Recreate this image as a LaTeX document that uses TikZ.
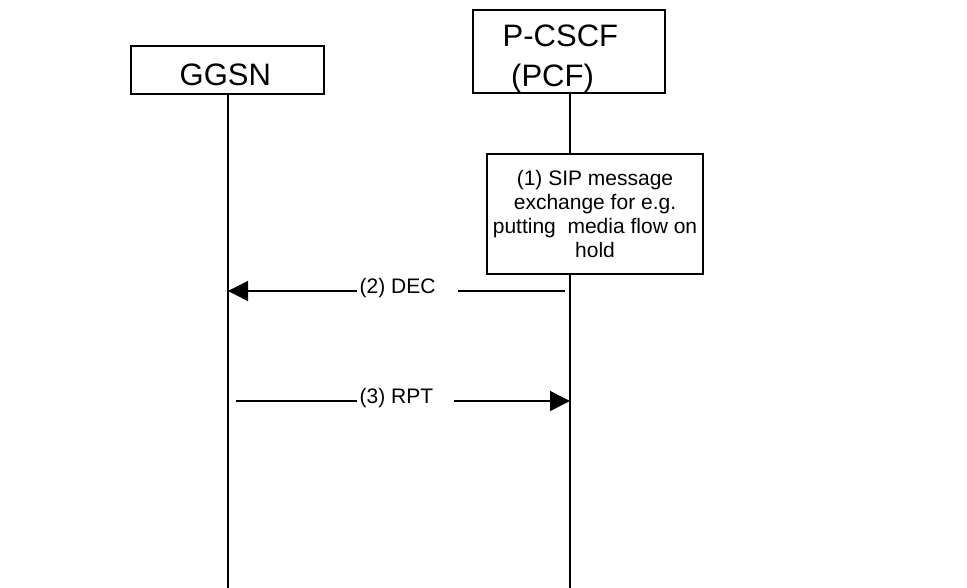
\documentclass[tikz,border=0pt]{standalone}
\usepackage{fontspec}
\setmainfont{Liberation Sans}
\usetikzlibrary{arrows.meta}
\begin{document}
\begin{tikzpicture}[x=1pt,y=-1pt,
  entity/.style={draw, line width=1.8pt, inner sep=0pt},
  bigtext/.style={inner sep=0pt, anchor=base west, font=\fontsize{31}{40}\selectfont},
  smalltext/.style={inner sep=0pt, anchor=base west, font=\fontsize{21}{23.7}\selectfont},
  lifeline/.style={line width=1.4pt},
  msg/.style={line width=1.5pt},
  tip/.style={-{Triangle[length=20pt,width=20pt]}}
]
\useasboundingbox (0,0) rectangle (967,588);

% entity boxes
\node[entity, minimum width=193pt, minimum height=48pt] (ggsn) at (227.5,70) {};
\node[bigtext] (ggsnlbl) at (179.5,86) {GGSN};
\node[entity, minimum width=192pt, minimum height=83pt] (pcscf) at (569,51.5) {};
\node[bigtext] (pcscflbl1) at (502.5,47) {P-CSCF};
\node[bigtext] (pcscflbl2) at (511,87) {(PCF)};

% SIP box
\node[entity, line width=1.6pt, minimum width=216pt, minimum height=120pt,
      align=center, font=\fontsize{21}{23.7}\selectfont] (sip) at (595,214)
  {(1) SIP message\\exchange for e.g.\\putting\ \ media flow on\\hold};

% lifeline ends
\coordinate (gbot) at (228,588);
\coordinate (pbot) at (570,588);
\coordinate (gtop) at (228,94);
\coordinate (ptop) at (570,93);
\coordinate (psiptop) at (570,154);
\coordinate (psipbot) at (570,274);

\draw[lifeline] (gtop) -- (gbot);
\draw[lifeline] (ptop) -- (psiptop);
\draw[lifeline] (psipbot) -- (pbot);

% (2) DEC
\node[smalltext] (dec) at (359.5,294) {(2) DEC};
\coordinate (decR) at (565,291);
\coordinate (decG) at (228,291);
\coordinate (decA) at (458,291);
\coordinate (decB) at (357,291);
\draw[msg] (decR) -- (decA);
\draw[msg, tip] (decB) -- (decG);

% (3) RPT
\node[smalltext] (rpt) at (359.5,403) {(3) RPT};
\coordinate (rptG) at (236,401);
\coordinate (rptA) at (357,401);
\coordinate (rptB) at (454,401);
\coordinate (rptP) at (570,401);
\draw[msg] (rptG) -- (rptA);
\draw[msg, tip] (rptB) -- (rptP);
\end{tikzpicture}
\end{document}
